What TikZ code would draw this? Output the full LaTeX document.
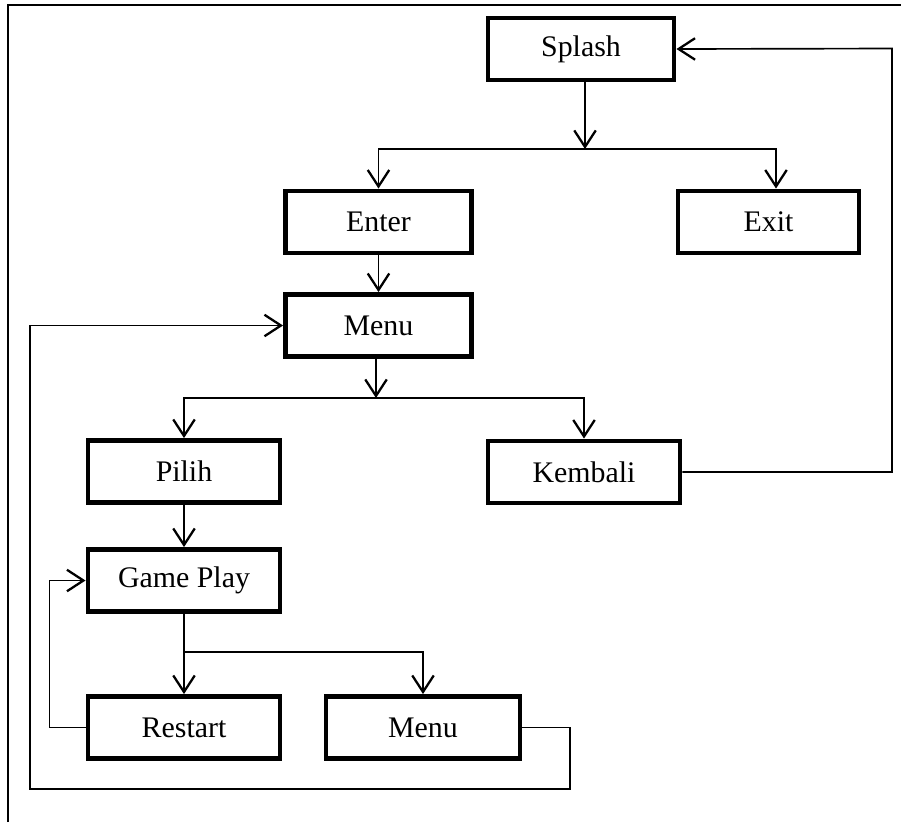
\documentclass[tikz,border=0pt]{standalone}
\usepackage{fontspec}
\setmainfont{Liberation Serif}
\usepackage{tikz}
\usetikzlibrary{arrows.meta, positioning}

\begin{document}
\begin{tikzpicture}[
    screen/.style={draw, rectangle, line width=2.8pt, text centered, minimum height=1.24cm, minimum width=3.72cm, font=\fontsize{17}{20}\selectfont},
    link/.style={line width=0.95pt},
    >={Straight Barb[length=3.3mm, width=4.3mm, line width=1.3pt]}
]

    \useasboundingbox (0,0) rectangle (18.02,-16.44);

    % Page frame (only top and left edge visible)
    \draw[line width=0.7pt] (0.16,-16.44) -- (0.16,-0.1) -- (18.02,-0.1);

    % Nodes for the screens
    \node (splash) [screen] at (11.62,-0.98) {Splash};
    \node (enter) [screen] at (7.57,-4.44) {Enter};
    \node (exit) [screen, minimum width=3.62cm] at (15.37,-4.44) {Exit};
    \node (menu) [screen] at (7.57,-6.51) {Menu};

    % Nodes below the menu
    \node (pilih) [screen, minimum width=3.84cm] at (3.68,-9.43) {Pilih};
    \node (kembali) [screen, minimum width=3.84cm] at (11.68,-9.44) {Kembali};
    \node (gameplay) [screen, minimum width=3.84cm] at (3.68,-11.61) {Game Play};
    \node (restart) [screen, minimum width=3.84cm] at (3.68,-14.55) {Restart};
    \node (menuB) [screen, minimum width=3.88cm] at (8.46,-14.55) {Menu};

    % Junction points and bends
    \coordinate (splitA) at (11.7,-2.98);
    \coordinate (splitB) at (7.52,-7.96);
    \coordinate (splitC) at (3.68,-13.04);
    \coordinate (backA) at (17.84,-0.97);
    \coordinate (backB) at (11.4,-15.78);
    \coordinate (backC) at (0.6,-15.78);

    % Arrows from splash
    \draw[link, ->] (splash.south -| splitA) -- (splitA);
    \draw[link, ->] (splitA) -| (enter);
    \draw[link, ->] (splitA) -| ([xshift=0.15cm]exit.north);

    % Arrows from enter and menu
    \draw[link, ->] (enter) -- (menu);
    \draw[link, ->] (menu.south -| splitB) -- (splitB);
    \draw[link, ->] (splitB) -| (pilih);
    \draw[link, ->] (splitB) -| (kembali);

    % Arrows in the game part
    \draw[link, ->] (pilih) -- (gameplay);
    \draw[link] (gameplay) -- (splitC);
    \draw[link, ->] (splitC) -- (restart);
    \draw[link, ->] (splitC) -| (menuB);

    % Lines going back
    \draw[link, ->] (restart.west) -- ++(-0.72,0) |- (gameplay.west);
    \draw[link, ->] (menuB.east) -| (backB) -- (backC) |- (menu.west);
    \draw[link, ->] (kembali.east) -| (backA) -- (splash.east);

\end{tikzpicture}
\end{document}
